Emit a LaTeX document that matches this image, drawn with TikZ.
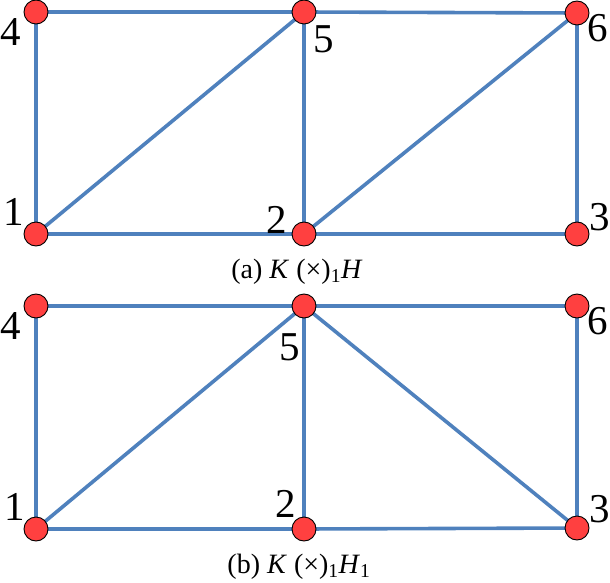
\documentclass[tikz,border=0pt]{standalone}
\usepackage{fontspec}
\setmainfont{Liberation Serif}
\usetikzlibrary{backgrounds}
\definecolor{edgeblue}{RGB}{79,129,189}
\definecolor{vred}{RGB}{255,64,64}
\begin{document}
\begin{tikzpicture}[x=1pt,y=-1pt,
  vtx/.style={circle,draw=black,line width=0.9pt,fill=vred,minimum size=24pt,inner sep=0pt},
  edge/.style={draw=edgeblue,line width=3.6pt},
  lbl/.style={inner sep=0pt,font=\fontsize{41}{41}\selectfont},
  captxt/.style={inner sep=0pt,anchor=base,font=\fontsize{28}{28}\selectfont}]
\useasboundingbox (0,0) rectangle (610,583);
% graph (a)
\node[vtx] (a4) at (36,12) {};
\node[vtx] (a5) at (304,12) {};
\node[vtx] (a6) at (577,13) {};
\node[vtx] (a1) at (36,234) {};
\node[vtx] (a2) at (304,234) {};
\node[vtx] (a3) at (577,234) {};
% graph (b)
\node[vtx] (b4) at (36,306) {};
\node[vtx] (b5) at (304,306) {};
\node[vtx] (b6) at (577,306) {};
\node[vtx] (b1) at (36,529) {};
\node[vtx] (b2) at (304,529) {};
\node[vtx] (b3) at (577,528) {};
\begin{scope}[on background layer]
\path[edge] (a4.center) -- (a5.center) (a5.center) -- (a6.center) (a4.center) -- (a1.center)
  (a1.center) -- (a5.center) (a5.center) -- (a2.center) (a2.center) -- (a6.center)
  (a6.center) -- (a3.center) (a1.center) -- (a2.center) (a2.center) -- (a3.center);
\path[edge] (b4.center) -- (b5.center) (b5.center) -- (b6.center) (b4.center) -- (b1.center)
  (b1.center) -- (b5.center) (b5.center) -- (b2.center) (b5.center) -- (b3.center)
  (b6.center) -- (b3.center) (b1.center) -- (b2.center) (b2.center) -- (b3.center);
\end{scope}
% labels (a)
\node[lbl] (la4) at (11,32) {4};
\node[lbl] (la5) at (324,39) {5};
\node[lbl] (la6) at (598,28) {6};
\node[lbl] (la1) at (14,212) {1};
\node[lbl] (la2) at (277,220) {2};
\node[lbl] (la3) at (600,217) {3};
% labels (b)
\node[lbl] (lb4) at (11,326) {4};
\node[lbl] (lb5) at (290,347) {5};
\node[lbl] (lb6) at (598,321) {6};
\node[lbl] (lb1) at (15,507) {1};
\node[lbl] (lb2) at (286,504) {2};
\node[lbl] (lb3) at (600,509) {3};
% captions
\node[captxt] (capa) at (297,278) {(a) \textit{K} (×)\textsubscript{1}\textit{H}};
\node[captxt] (capb) at (299,573) {(b) \textit{K} (×)\textsubscript{1}\textit{H}\textsubscript{1}};
\end{tikzpicture}
\end{document}
